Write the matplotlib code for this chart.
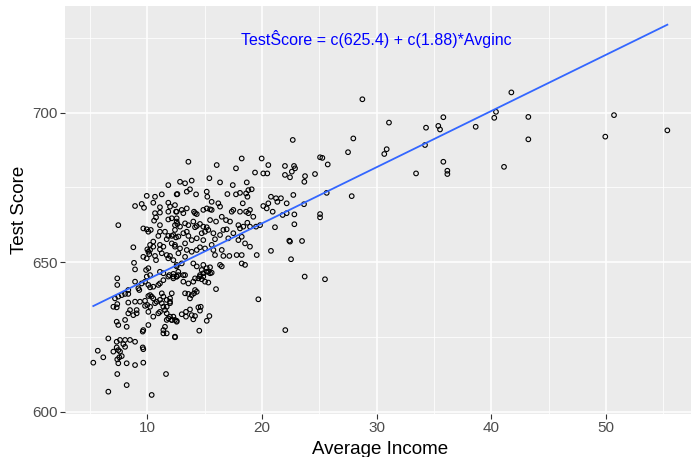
import matplotlib
matplotlib.use("Agg")
import matplotlib.pyplot as plt
import numpy as np

# ---- data ----
avginc = [
    11.83, 9.95, 10.67, 11.26, 12.56, 12.85, 8.93, 9.51, 9.71, 10.52, 11.1, 11.1, 11.83, 10.67, 10.76, 10.59,
    11.83, 11.83, 12.56, 12.56, 12.62, 11.1, 7.47, 9.65, 9.95, 10.3, 10.09, 11.1, 11.54, 11.83, 12.13, 12.5,
    10.96, 10.52, 10.24, 10.52, 11.1, 11.4, 11.69, 12.41, 8.78, 10.0, 10.24, 10.09, 10.17, 11.1, 11.26, 11.69,
    11.98, 11.83, 10.67, 10.76, 9.65, 9.95, 8.84, 8.93, 10.09, 9.89, 11.1, 11.4, 11.92, 12.27, 12.7, 7.38, 12.56,
    7.38, 9.95, 10.24, 9.8, 9.51, 8.93, 10.09, 10.24, 10.52, 10.96, 11.1, 11.4, 11.83, 12.27, 12.56,
    8.34, 8.34, 9.22, 9.3, 7.18, 7.47, 7.77, 8.06, 7.04, 7.33, 7.38, 8.34, 8.93, 9.36, 9.8, 10.0, 9.8,
    10.24, 10.38, 10.09, 10.52, 10.82, 10.67, 11.1, 11.26, 11.4, 11.69, 11.98, 11.26, 11.4, 11.69, 11.54,
    11.1, 10.96, 11.69, 8.49, 8.34, 9.07, 8.78, 9.07, 10.24, 10.09, 10.52, 11.69, 12.13, 12.41, 12.56, 11.83,
    7.33, 7.47, 8.2, 8.06, 10.09, 9.65, 9.6, 11.4, 11.54, 11.4, 11.69, 12.41, 6.6, 7.33, 7.62, 8.06, 8.49, 8.93,
    7.91, 8.06, 7.33, 7.47, 7.62, 7.77, 7.04, 6.16, 5.68, 5.29, 7.38, 7.56, 7.47, 8.2, 8.93, 9.65, 9.6, 9.65,
    7.38, 8.2, 6.6, 11.63, 10.38,
    13.58, 16.05, 18.23, 17.73, 19.97, 20.55, 22.0, 22.79, 19.39, 20.11, 20.46, 22.0, 22.6, 15.41, 13.29, 13.87,
    16.34, 18.67, 17.45, 12.62, 13.44, 13.72, 14.25, 15.18, 15.23, 15.61, 16.19, 16.98, 17.73, 18.08, 18.81,
    19.1, 18.61, 18.73, 20.78, 21.22, 21.65, 22.15, 21.34, 20.55, 20.11, 20.41, 11.98, 12.41, 12.5, 13.0, 13.14,
    13.44, 14.07, 14.16, 14.31, 14.88, 15.18, 15.47, 15.61, 16.34, 17.36, 17.5, 18.08, 18.61, 18.81, 18.95,
    18.32, 19.24, 20.93, 21.8, 22.15, 22.38, 21.13, 12.13, 12.56, 12.41, 12.85, 13.29, 13.58, 14.01, 14.16,
    14.31, 14.59, 14.88, 15.18, 15.47, 15.99, 16.49, 16.86, 17.21, 17.94, 18.08, 18.37, 18.72, 18.95, 19.48,
    19.83, 12.41, 12.27, 12.71, 13.14, 13.44, 13.58, 13.87, 14.31, 14.74, 15.03, 15.32, 15.76, 15.9, 16.34,
    16.63, 16.92, 17.06, 17.5, 17.94, 18.23, 18.52, 18.95, 19.54, 18.23, 17.79, 17.15, 16.49, 16.63, 15.9,
    15.76, 15.03, 14.59, 14.31, 13.87, 13.44, 12.85, 12.41, 12.13, 13.29, 14.88, 15.61, 20.78, 22.44, 18.52,
    18.23, 15.18, 15.32, 15.47, 14.88, 14.74, 14.31, 14.01, 13.29, 13.0, 12.56, 12.27, 12.71, 16.49, 16.34,
    13.14, 12.56, 14.59, 14.45, 14.88,
    12.27, 12.71, 13.29, 13.14, 13.58, 14.01, 14.16, 14.59, 14.88, 15.18, 15.47, 15.61, 15.03, 15.32, 14.74,
    15.99, 12.13, 11.98, 11.98, 13.29, 13.58, 14.16, 14.07, 13.87, 13.72, 14.31, 19.68, 11.98, 12.27, 12.56,
    12.13, 13.0, 13.37, 13.72, 13.37, 13.87, 14.16, 14.01, 14.45, 14.66, 14.59, 15.41, 15.18, 14.53, 12.41, 22.03,
    28.75, 31.07, 35.81, 34.3, 35.37, 35.52, 38.63, 22.68, 27.96, 27.5, 30.87, 30.66, 34.21, 25.06, 25.26,
    25.73, 22.88, 22.44, 23.75, 23.69, 24.62, 35.81, 33.43, 36.16, 36.16, 22.73, 25.64, 27.82, 23.66, 22.82,
    25.06, 25.06, 22.82, 23.49, 22.53, 23.72, 25.49,
    41.74, 40.4, 40.25, 43.22, 43.22, 41.1, 50.69, 49.93, 55.34,
]
testscr = [
    675.8, 672.2, 671.9, 672.7, 672.7, 676.9, 668.8, 669.5, 668.2, 669.9, 668.4, 666.6, 669.9, 666.4, 665.0, 663.9,
    666.9, 664.3, 666.9, 664.7, 662.8, 662.4, 662.4, 661.3, 661.0, 660.8, 660.2, 660.2, 660.2, 658.8, 658.8, 658.3,
    658.8, 656.9, 655.8, 655.2, 655.8, 655.2, 657.7, 655.8, 655.0, 654.3, 654.1, 653.5, 652.7, 654.3, 653.0, 652.4,
    652.1, 651.3, 652.1, 650.7, 651.8, 651.3, 649.8, 647.6, 648.0, 647.4, 646.8, 646.3, 645.7, 646.1, 646.8, 644.6, 649.1,
    642.4, 645.2, 645.7, 643.5, 642.9, 643.5, 642.4, 641.6, 641.8, 642.4, 642.9, 644.0, 645.2, 644.6, 645.2,
    640.7, 639.4, 641.3, 640.7, 637.9, 638.5, 639.0, 639.4, 635.1, 634.9, 636.0, 636.5, 636.8, 636.8, 637.1, 635.7, 635.4,
    639.0, 638.5, 638.7, 637.9, 636.8, 636.3, 637.4, 639.6, 638.5, 637.4, 636.8, 636.3, 635.1, 635.1, 634.0,
    633.4, 632.9, 632.9, 634.0, 632.9, 634.0, 632.3, 632.9, 635.1, 633.4, 631.8, 630.7, 630.7, 630.7, 630.1, 631.2,
    630.1, 629.0, 628.4, 630.7, 629.0, 627.3, 626.8, 627.3, 628.4, 626.2, 626.2, 625.1, 624.5, 623.4, 624.0, 624.0, 624.0, 623.4,
    622.6, 621.7, 621.5, 620.6, 620.1, 618.6, 620.1, 618.2, 620.4, 616.4, 617.5, 618.2, 616.2, 616.2, 615.6, 616.4, 621.5, 620.9,
    612.6, 608.9, 606.7, 612.6, 605.6,
    683.6, 682.5, 684.7, 681.4, 684.7, 682.5, 682.2, 682.2, 680.0, 679.7, 679.7, 679.2, 680.3, 678.1, 676.4, 677.3,
    676.7, 676.7, 675.8, 672.8, 673.6, 674.4, 672.7, 673.6, 671.9, 670.2, 669.7, 672.8, 672.7, 673.2, 674.1,
    674.4, 673.0, 671.9, 671.9, 671.4, 671.4, 669.7, 670.2, 669.7, 668.8, 668.0, 668.6, 669.1, 666.9, 667.5, 666.4,
    668.0, 666.9, 666.4, 666.1, 667.5, 668.0, 667.7, 667.5, 668.6, 666.9, 667.5, 666.9, 666.9, 666.4, 667.5,
    669.7, 665.2, 666.9, 665.8, 666.4, 657.2, 661.7, 664.7, 663.6, 662.4, 661.9, 663.0, 662.4, 663.6, 661.7,
    662.1, 662.8, 661.9, 661.7, 664.1, 663.6, 665.2, 664.1, 663.6, 662.4, 661.3, 661.9, 663.2, 661.9, 661.9,
    662.4, 660.8, 659.1, 658.6, 659.7, 660.2, 658.8, 657.4, 658.0, 659.7, 660.2, 660.8, 659.7, 657.7, 659.1,
    660.8, 661.0, 658.0, 659.7, 657.4, 658.5, 656.3, 655.2, 652.4, 652.4, 652.4, 652.1, 654.1, 652.1, 652.4,
    654.1, 654.6, 655.0, 654.1, 653.5, 654.1, 654.6, 655.2, 656.3, 656.3, 657.4, 655.8, 653.8, 656.9, 649.1,
    649.6, 648.0, 646.8, 648.3, 649.1, 647.4, 648.6, 649.6, 651.8, 649.6, 648.6, 650.7, 653.0, 648.6, 649.1,
    645.7, 645.2, 645.7, 644.6, 645.2,
    645.2, 645.7, 645.7, 643.5, 642.9, 643.5, 644.6, 645.2, 646.3, 646.8, 646.3, 646.5, 643.5, 643.2, 644.3,
    641.0, 639.6, 637.9, 636.3, 639.6, 639.4, 640.7, 639.6, 639.0, 637.9, 640.1, 637.6, 631.8, 631.8, 630.4,
    630.7, 632.6, 633.4, 634.2, 631.8, 632.3, 632.0, 630.9, 634.9, 635.1, 633.8, 632.0, 630.4, 627.1, 624.9, 627.3,
    704.5, 696.7, 698.5, 695.0, 695.6, 694.4, 695.3, 690.9, 691.4, 686.8, 687.8, 686.2, 689.2, 685.1, 684.9,
    682.7, 681.4, 678.4, 678.8, 676.9, 679.5, 683.6, 679.7, 680.6, 679.5, 672.5, 673.2, 672.1, 669.4, 666.0,
    666.1, 665.0, 662.7, 657.1, 651.0, 645.2, 644.3,
    706.8, 700.3, 698.3, 698.6, 691.1, 681.9, 699.2, 692.0, 694.1,
]
intercept = 625.4
slope = 1.88
label_text = "TestŜcore = c(625.4) + c(1.88)*Avginc"
x_ticks = [10, 20, 30, 40, 50]
y_ticks = [600, 650, 700]

avginc = np.array(avginc)
testscr = np.array(testscr)

plt.rcParams['font.family'] = ['Liberation Sans', 'DejaVu Sans']

W, H = 691, 457
fig = plt.figure(figsize=(W / 100, H / 100), dpi=100)
fig.patch.set_facecolor('white')

left_px, right_px = 65.2, 695.9
top_px, bottom_px = 6.3, 413.5
ax = fig.add_axes([left_px / W, (H - bottom_px) / H,
                   (right_px - left_px) / W, (bottom_px - top_px) / H])
ax.set_facecolor('#EBEBEB')

ax.set_xlim(2.84, 57.83)
ax.set_ylim(599.4, 735.6)

ax.set_xticks(x_ticks)
ax.set_yticks(y_ticks)
ax.set_xticks([5, 15, 25, 35, 45, 55], minor=True)
ax.set_yticks([625, 675, 725], minor=True)
ax.grid(which='major', color='white', linewidth=1.1)
ax.grid(which='minor', color='white', linewidth=0.55)
ax.set_axisbelow(True)
for s in ax.spines.values():
    s.set_visible(False)

ax.tick_params(which='major', length=3.5, width=0.8, color='#333333',
               labelsize=11, labelcolor='#4D4D4D', pad=2)
ax.tick_params(which='minor', length=0)

ax.scatter(avginc, testscr, s=11, facecolors='none', edgecolors='black',
           linewidths=0.8, zorder=3)

xs = np.array([avginc.min(), avginc.max()])
ax.plot(xs, intercept + slope * xs, color='#3366FF', linewidth=1.3, zorder=4)

ax.text(30.0, 724.5, label_text, color='#0000FF', fontsize=11.5,
        ha='center', va='center', zorder=5)

ax.set_xlabel('Average Income', fontsize=13.5, color='black', labelpad=4)
ax.set_ylabel('Test Score', fontsize=13.5, color='black', labelpad=3)

fig.savefig('out.png', dpi=100)
